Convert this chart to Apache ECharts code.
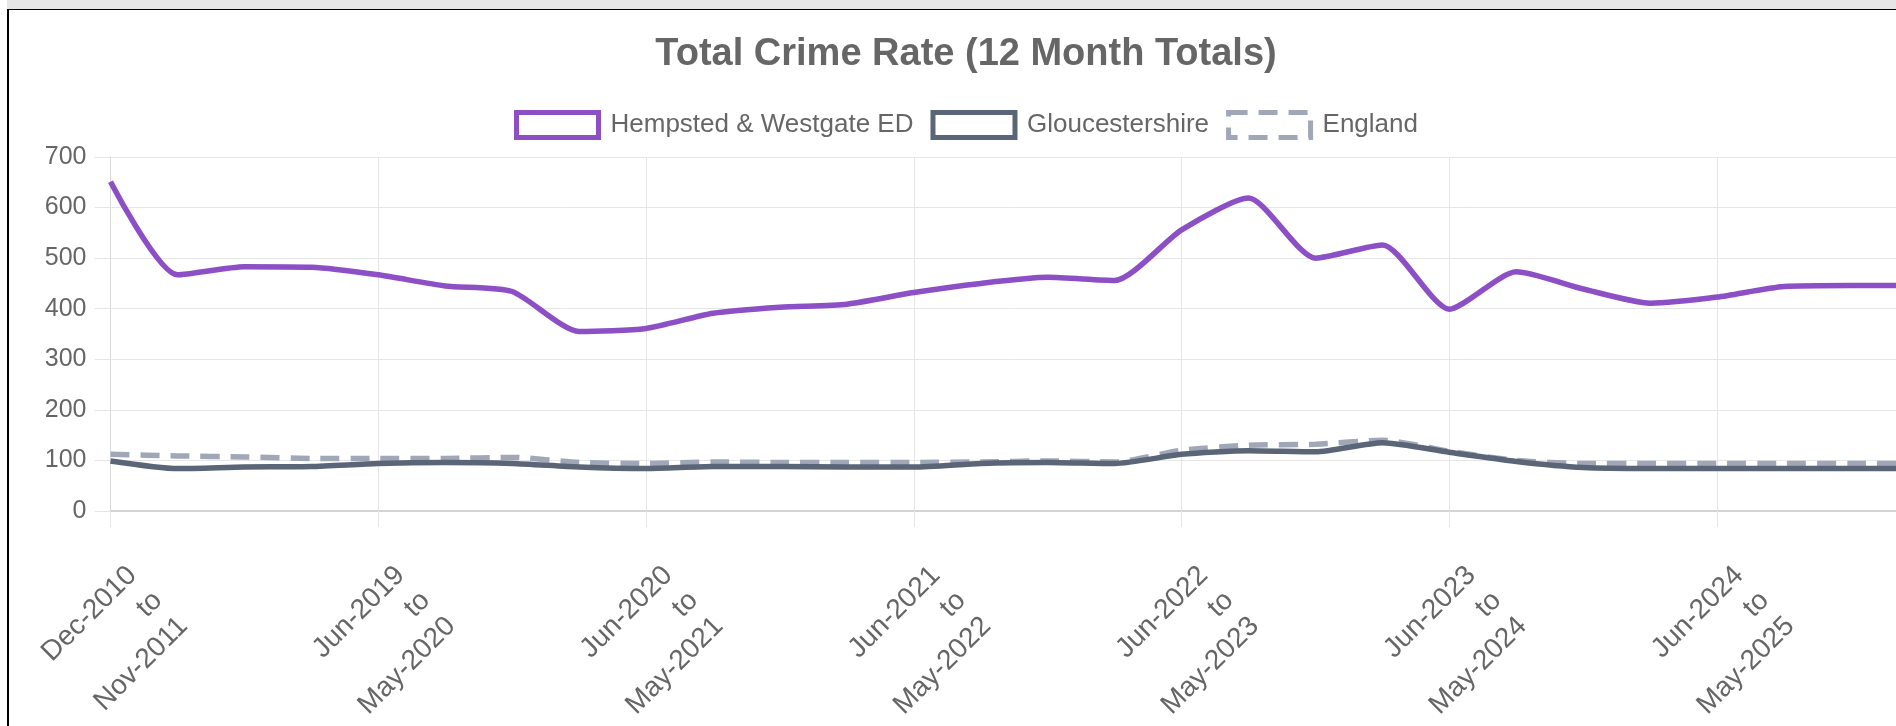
<!DOCTYPE html>
<html lang="en">
<head>
    <meta charset="UTF-8">
    <title>Total Crime Rate (12 Month Totals)</title>
    <style>
        html, body { margin: 0; padding: 0; overflow: hidden; background: #fff; }
        #topbar { position: absolute; left: 7px; right: 0; top: 0; height: 9px; background: #e6e6e6; }
        #frame { position: absolute; left: 7px; top: 9px; width: 2000px; height: 800px;
                 border-top: 1px solid #000; border-left: 2px solid #000; pointer-events: none; }
        #container { position: absolute; left: 0; top: 0; width: 1932px; height: 726px; }
    </style>
</head>
<body>
    <div id="topbar"></div>
    <div id="container"></div>
    <div id="frame"></div>

<script src="https://cdn.jsdelivr.net/npm/echarts@6/dist/echarts.min.js"></script>
<script>
    // periods (12 month rolling totals, quarterly steps)
    var periods = [
        'Dec-2010 to Nov-2011', 'Sep-2018 to Aug-2019', 'Dec-2018 to Nov-2019', 'Mar-2019 to Feb-2020',
        'Jun-2019 to May-2020', 'Sep-2019 to Aug-2020', 'Dec-2019 to Nov-2020', 'Mar-2020 to Feb-2021',
        'Jun-2020 to May-2021', 'Sep-2020 to Aug-2021', 'Dec-2020 to Nov-2021', 'Mar-2021 to Feb-2022',
        'Jun-2021 to May-2022', 'Sep-2021 to Aug-2022', 'Dec-2021 to Nov-2022', 'Mar-2022 to Feb-2023',
        'Jun-2022 to May-2023', 'Sep-2022 to Aug-2023', 'Dec-2022 to Nov-2023', 'Mar-2023 to Feb-2024',
        'Jun-2023 to May-2024', 'Sep-2023 to Aug-2024', 'Dec-2023 to Nov-2024', 'Mar-2024 to Feb-2025',
        'Jun-2024 to May-2025', 'Sep-2024 to Aug-2025', 'Dec-2024 to Nov-2025', 'Mar-2025 to Feb-2026'
    ];
    var hempsted = [651, 467, 483, 482, 467, 445, 434, 355, 361, 391, 403, 409, 432, 450,
                    462, 456, 556, 619, 500, 526, 399, 473, 439, 411, 423, 444, 446, 446];
    var gloucestershire = [99, 84, 87, 88, 94, 96, 94, 87, 84, 88, 88, 87, 87, 94,
                           96, 94, 112, 119, 117, 135, 116, 98, 86, 84, 84, 84, 84, 84];
    var england = [112, 109, 107, 104, 104, 104, 106, 96, 94, 97, 96, 96, 96, 97,
                   99, 97, 120, 130, 132, 140, 118, 100, 94, 94, 94, 94, 94, 94];
    var yTicks = [0, 100, 200, 300, 400, 500, 600, 700];

    var fontFamily = "'Liberation Sans', Arial, Helvetica, sans-serif";
    var purple = '#8c4fc6';
    var slate = '#5b6578';
    var grey = '#a0a8b8';
    var gridColor = '#e6e6e6';

    var chart = echarts.init(document.getElementById('container'));

    var option = {
        backgroundColor: 'transparent',
        animation: false,
        textStyle: { fontFamily: fontFamily },
        title: {
            text: 'Total Crime Rate (12 Month Totals)',
            left: 'center',
            top: 31,
            textStyle: { fontSize: 38, fontWeight: 'bold', color: '#666', fontFamily: fontFamily }
        },
        legend: {
            left: 509,
            top: 105,
            itemWidth: 82,
            itemHeight: 25,
            itemGap: 17,
            textStyle: { fontSize: 26, color: '#666', padding: [0, 0, 0, 7], fontFamily: fontFamily },
            data: [{
                name: 'Hempsted & Westgate ED',
                icon: 'rect',
                itemStyle: { color: '#fff', borderColor: purple, borderWidth: 5 }
            }, {
                name: 'Gloucestershire',
                icon: 'rect',
                itemStyle: { color: '#fff', borderColor: slate, borderWidth: 5 }
            }, {
                name: 'England',
                icon: 'rect',
                itemStyle: { color: '#fff', borderColor: grey, borderWidth: 5, borderType: [19, 11] }
            }]
        },
        grid: {
            left: 110.5,
            top: 157,
            height: 354,
            right: 14,
            containLabel: false
        },
        xAxis: {
            type: 'category',
            boundaryGap: false,
            data: periods,
            axisLine: { show: true, lineStyle: { color: '#d4d4d4', width: 2 } },
            axisTick: { show: true, interval: 3, length: 16, lineStyle: { color: gridColor } },
            splitLine: { show: true, interval: 3, lineStyle: { color: gridColor, width: 1 } },
            axisLabel: {
                interval: 3,
                rotate: 45,
                margin: 38,
                align: 'right',
                verticalAlign: 'top',
                padding: [13, 0, 0, 0],
                lineHeight: 36,
                fontSize: 28,
                color: '#666',
                fontFamily: fontFamily,
                formatter: function (v) { return v.replace(' to ', '\nto\n'); }
            }
        },
        yAxis: {
            type: 'value',
            min: yTicks[0],
            max: yTicks[yTicks.length - 1],
            interval: 100,
            axisLine: { show: true, lineStyle: { color: '#d9d9d9', width: 1 } },
            axisTick: { show: true, length: 16, lineStyle: { color: gridColor } },
            splitLine: { show: true, lineStyle: { color: gridColor, width: 1 } },
            axisLabel: { margin: 24, fontSize: 25, color: '#666', fontFamily: fontFamily }
        },
        series: [{
            name: 'Hempsted & Westgate ED',
            type: 'line',
            data: hempsted,
            smooth: 0.22,
            symbol: 'none',
            z: 4,
            lineStyle: { color: purple, width: 5.5 },
            itemStyle: { color: purple }
        }, {
            name: 'Gloucestershire',
            type: 'line',
            data: gloucestershire,
            smooth: 0.22,
            symbol: 'none',
            z: 3,
            lineStyle: { color: slate, width: 5.5 },
            itemStyle: { color: slate }
        }, {
            name: 'England',
            type: 'line',
            data: england,
            smooth: 0.22,
            symbol: 'none',
            z: 2,
            lineStyle: { color: grey, width: 5.5, type: [19, 11] },
            itemStyle: { color: grey }
        }]
    };

    chart.setOption(option);
</script>
</body>
</html>
